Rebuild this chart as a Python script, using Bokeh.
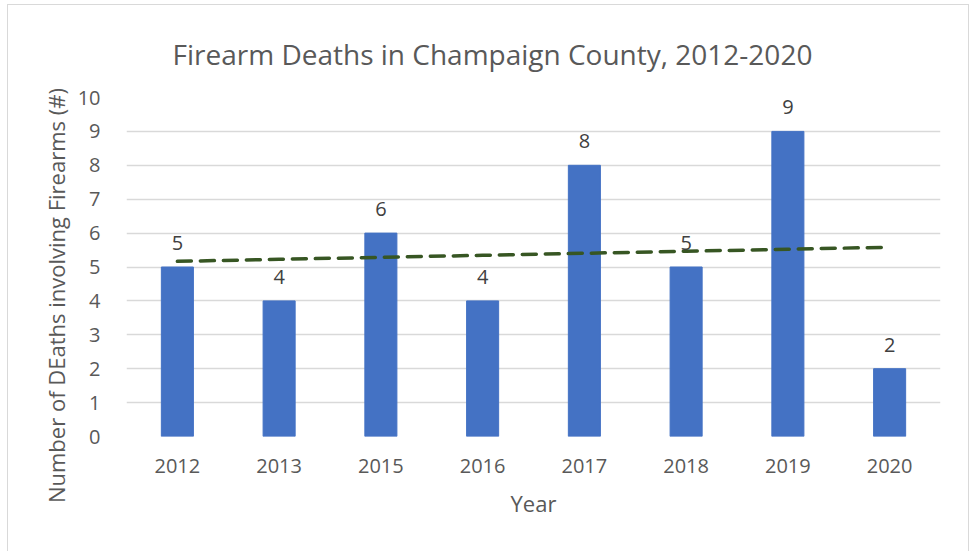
from bokeh.plotting import figure
from bokeh.models import ColumnDataSource, FactorRange, LabelSet
from bokeh.embed import file_html
from bokeh.resources import INLINE
from bokeh.core.properties import value
import numpy as np

years = ["2012", "2013", "2015", "2016", "2017", "2018", "2019", "2020"]
deaths = [5, 4, 6, 4, 8, 5, 9, 2]

FONT = "Open Sans"
TXT = "#595959"

# linear trendline (Excel style: x = 1..n)
xs = np.arange(1, len(deaths) + 1)
slope, intercept = np.polyfit(xs, deaths, 1)
trend = list(slope * xs + intercept)

src = ColumnDataSource(dict(year=years, deaths=deaths, lab=[str(v) for v in deaths], trend=trend))

p = figure(x_range=FactorRange(*years), y_range=(0, 10),
           width=962, height=547, output_backend="svg", toolbar_location=None,
           min_border_left=118, min_border_right=30, min_border_top=92, min_border_bottom=116)
p.styles = {"border": "1px solid #d9d9d9", "border-bottom": "none", "box-sizing": "border-box",
            "margin-left": "7px", "margin-top": "4px"}

p.title.text = "Firearm Deaths in Champaign County, 2012-2020"
p.title.align = "left"
p.title.offset = 46
p.title.text_font = FONT
p.title.text_font_size = "28px"
p.title.text_font_style = "normal"
p.title.text_color = TXT
p.title.standoff = 50

p.vbar(x="year", top="deaths", width=0.315, source=src, color="#4472C4")
p.line(x="year", y="trend", source=src, line_color="#375623", line_width=3.5,
       line_dash="14 9", line_cap="round")

labels = LabelSet(x="year", y="deaths", text="lab", source=src, y_offset=17,
                  text_align="center", text_baseline="alphabetic",
                  text_font=value(FONT), text_font_size="20px", text_color="#404040")
p.add_layout(labels)

p.outline_line_color = None
p.xgrid.grid_line_color = None
p.ygrid.grid_line_color = "#d9d9d9"
p.ygrid.grid_line_width = 1.5
p.yaxis.ticker = list(range(0, 11))

for ax in (p.xaxis[0], p.yaxis[0]):
    ax.axis_line_color = None
    ax.major_tick_line_color = None
    ax.minor_tick_line_color = None
    ax.major_label_text_font = FONT
    ax.major_label_text_font_size = "20px"
    ax.major_label_text_color = TXT
    ax.axis_label_text_font = FONT
    ax.axis_label_text_font_style = "normal"
    ax.axis_label_text_color = TXT

p.xaxis.axis_label = "Year"
p.xaxis.axis_label_text_font_size = "22px"
p.xaxis.major_label_standoff = 16
p.xaxis.axis_label_standoff = 12
p.xaxis.group_text_font_size = "0px"

# Excel sits the y title a little below the plot-area centre: trailing
# no-break spaces push the visible text down along the rotated axis
p.yaxis.axis_label = "Number of DEaths involving Firearms (#)" + "\u00a0" * 10
p.yaxis.axis_label_text_font_size = "22px"
p.yaxis.major_label_standoff = 20
p.yaxis.axis_label_standoff = 4

p.background_fill_color = "white"
p.border_fill_color = "white"

open("out.html", "w").write(file_html(p, INLINE))
